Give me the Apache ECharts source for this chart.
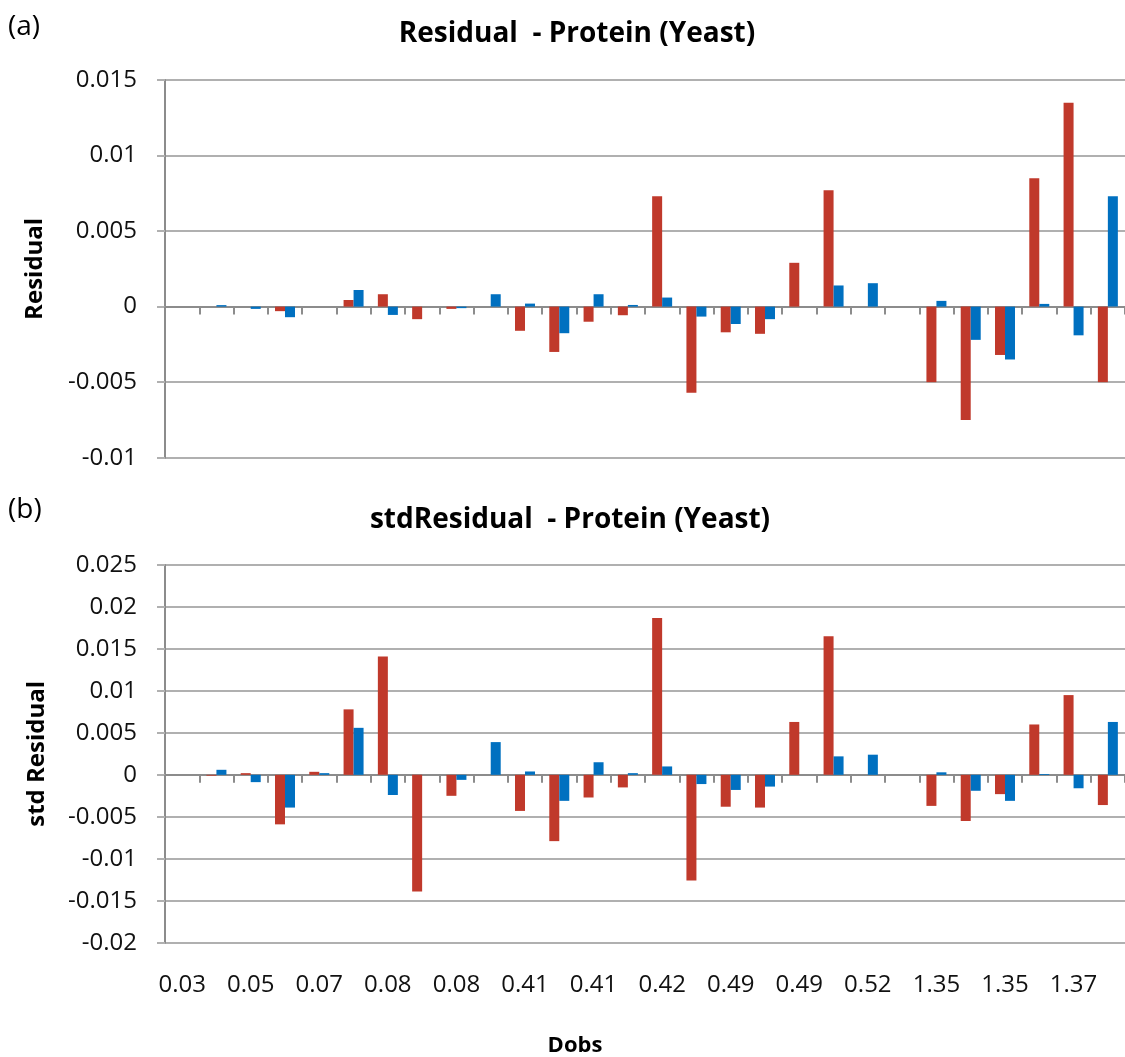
<!DOCTYPE html>
<html>
<head>
<meta charset="utf-8">
<script src="https://cdn.jsdelivr.net/npm/echarts@6/dist/echarts.min.js"></script>
<style>
html,body{margin:0;padding:0;background:#ffffff;}
#chart{width:1125px;height:1057px;}
</style>
</head>
<body>
<div id="chart"></div>
<script>
// Categories (Dobs). Only every other label is printed in the reference; hidden ones are unknown.
const categories = ['0.03','','0.05','','0.07','','0.08','','0.08','','0.41','','0.41','','0.42','','0.49','','0.49','','0.52','','1.35','','1.35','','1.37',''];

// (a) Residual
const residualRed  = [0, 0, 0, -0.0003, 0, 0.00044, 0.00082, -0.00083, -0.00015, 0, -0.0016, -0.003, -0.001, -0.00057, 0.0073, -0.0057, -0.0017, -0.0018, 0.0029, 0.0077, 0, 0, -0.005, -0.0075, -0.0032, 0.0085, 0.0135, -0.005];
const residualBlue = [0, 0.0001, -0.00015, -0.0007, 0, 0.0011, -0.00055, 0, -0.0001, 0.00082, 0.0002, -0.00176, 0.00082, 0.00011, 0.0006, -0.00066, -0.00115, -0.00083, 0, 0.0014, 0.00155, 0, 0.00038, -0.0022, -0.0035, 0.00018, -0.0019, 0.0073];

// (b) stdResidual
const stdResidualRed  = [0, -0.0001, 0.0002, -0.0059, 0.00036, 0.0078, 0.0141, -0.0139, -0.0025, 0, -0.0043, -0.0079, -0.0027, -0.0015, 0.0187, -0.0126, -0.0038, -0.0039, 0.0063, 0.0165, 0, 0, -0.0037, -0.0055, -0.0023, 0.006, 0.0095, -0.0036];
const stdResidualBlue = [0, 0.0006, -0.00087, -0.0039, 0.0002, 0.0056, -0.0024, 0, -0.0006, 0.0039, 0.0004, -0.0031, 0.0015, 0.0002, 0.001, -0.0011, -0.0018, -0.0014, 0, 0.0022, 0.0024, 0, 0.0003, -0.0019, -0.0031, 0.0001, -0.0016, 0.0063];

// Axis ranges / tick steps
const residualAxis = {min: -0.01, max: 0.015, interval: 0.005};
const stdResidualAxis = {min: -0.02, max: 0.025, interval: 0.005};

const titles = ['Residual  - Protein (Yeast)', 'stdResidual  - Protein (Yeast)'];
const yNames = ['Residual', 'std Residual'];
const xName = 'Dobs';

const RED = '#c0392b', BLUE = '#0070c0';
const FONT = '"Open Sans", "Liberation Sans", sans-serif';
const AXIS_COLOR = '#8c8c8c', GRID_COLOR = '#b0b0b0';

function zeroXAxis(gridIndex) {
  return {
    type: 'category', gridIndex: gridIndex, data: categories, position: 'bottom',
    axisLine: {onZero: true, lineStyle: {color: AXIS_COLOR, width: 2}},
    axisTick: {show: true, interval: 0, length: 8, inside: false, lineStyle: {color: AXIS_COLOR, width: 2}},
    axisLabel: {show: false},
    splitLine: {show: false}
  };
}
function valueYAxis(gridIndex, rng, name, gap) {
  return {
    type: 'value', gridIndex: gridIndex, min: rng.min, max: rng.max, interval: rng.interval,
    name: name, nameLocation: 'middle', nameRotate: 90, nameGap: gap,
    nameTextStyle: {fontFamily: FONT, fontSize: 24, fontWeight: 'bold', color: '#000'},
    axisLine: {show: true, lineStyle: {color: AXIS_COLOR, width: 2}},
    axisTick: {show: true, length: 8, inside: false, lineStyle: {color: GRID_COLOR, width: 2}},
    axisLabel: {fontFamily: FONT, fontSize: 24, color: '#111', margin: 28},
    splitLine: {show: true, lineStyle: {color: GRID_COLOR, width: 2}}
  };
}

const option = {
  backgroundColor: '#ffffff',
  animation: false,
  grid: [
    {left: 165, top: 80, width: 964.6, height: 377.7},
    {left: 165, top: 565, width: 964.6, height: 377.7}
  ],
  xAxis: [
    zeroXAxis(0),
    zeroXAxis(1),
    {
      type: 'category', gridIndex: 1, data: categories, position: 'bottom',
      axisLine: {show: false, onZero: false}, axisTick: {show: false},
      axisLabel: {show: true, interval: 1, margin: 30, fontFamily: FONT, fontSize: 24, color: '#111'},
      splitLine: {show: false}
    }
  ],
  yAxis: [
    valueYAxis(0, residualAxis, yNames[0], 118),
    valueYAxis(1, stdResidualAxis, yNames[1], 116)
  ],
  graphic: [
    {type: 'text', x: 8, y: 27, style: {text: '(a)', fontFamily: FONT, fontSize: 28, fill: '#000', verticalAlign: 'middle'}},
    {type: 'text', x: 8, y: 510, style: {text: '(b)', fontFamily: FONT, fontSize: 28, fill: '#000', verticalAlign: 'middle'}},
    {type: 'text', x: 577, y: 34, style: {text: titles[0], fontFamily: FONT, fontSize: 28, fontWeight: 'bold', fill: '#000', align: 'center', verticalAlign: 'middle'}},
    {type: 'text', x: 570, y: 520, style: {text: titles[1], fontFamily: FONT, fontSize: 28, fontWeight: 'bold', fill: '#000', align: 'center', verticalAlign: 'middle'}},
    {type: 'text', x: 575, y: 1046, style: {text: xName, fontFamily: FONT, fontSize: 22, fontWeight: 'bold', fill: '#000', align: 'center', verticalAlign: 'middle'}}
  ],
  series: [
    {name: 'Series 1', type: 'bar', xAxisIndex: 0, yAxisIndex: 0, data: residualRed, barWidth: 10, barGap: '0%', itemStyle: {color: RED}},
    {name: 'Series 2', type: 'bar', xAxisIndex: 0, yAxisIndex: 0, data: residualBlue, barWidth: 10, barGap: '0%', itemStyle: {color: BLUE}},
    {name: 'Series 1', type: 'bar', xAxisIndex: 1, yAxisIndex: 1, data: stdResidualRed, barWidth: 10, barGap: '0%', itemStyle: {color: RED}},
    {name: 'Series 2', type: 'bar', xAxisIndex: 1, yAxisIndex: 1, data: stdResidualBlue, barWidth: 10, barGap: '0%', itemStyle: {color: BLUE}}
  ]
};

const chart = echarts.init(document.getElementById('chart'), null, {renderer: 'canvas'});
chart.setOption(option);
</script>
</body>
</html>
